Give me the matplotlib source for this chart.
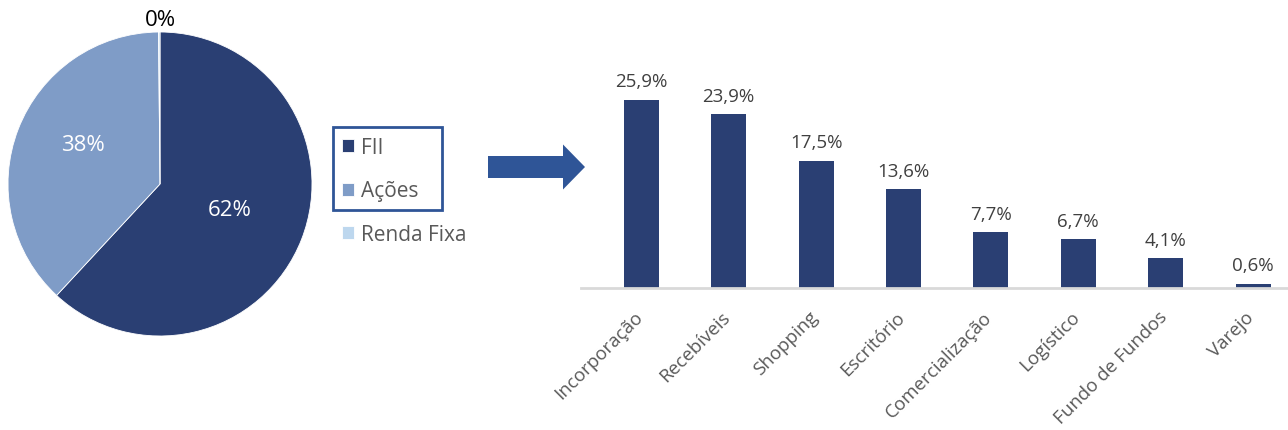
import matplotlib.pyplot as plt
from matplotlib.patches import Rectangle, FancyArrow
from matplotlib.transforms import ScaledTranslation

plt.rcParams['font.family'] = ['Open Sans', 'DejaVu Sans']

# pie data
pie_labels = ['FII', 'Ações', 'Renda Fixa']
pie_values = [62, 38, 0.15]
pie_text = ['62%', '38%', '0%']
pie_colors = ['#2A3F73', '#7F9CC7', '#BDD7EE']

# bar data
sectors = ['Incorporação', 'Recebíveis', 'Shopping', 'Escritório',
           'Comercialização', 'Logístico', 'Fundo de Fundos', 'Varejo']
shares = [25.9, 23.9, 17.5, 13.6, 7.7, 6.7, 4.1, 0.6]

W, H = 1288, 431
fig = plt.figure(figsize=(W / 100, H / 100), dpi=100)

# --- pie ---
ax1 = fig.add_axes([8 / W, 94 / H, 304 / W, 304 / H])
wedges, _ = ax1.pie(pie_values, colors=pie_colors, startangle=90, counterclock=False,
                    wedgeprops=dict(edgecolor='white', linewidth=0.6))
ax1.set_xlim(-1, 1)
ax1.set_ylim(-1, 1)
ax1.set_aspect('equal')
ax1.text(0.46, -0.17, pie_text[0], color='white', fontsize=16, ha='center', va='center')
ax1.text(-0.51, 0.26, pie_text[1], color='white', fontsize=16, ha='center', va='center')
ax1.text(0.0, 1.08, pie_text[2], color='black', fontsize=16, ha='center', va='center')

# legend
fig.legend(wedges, pie_labels, loc='center left', bbox_to_anchor=(342 / W, (H - 192) / H),
           frameon=False, labelcolor='#595959', prop=dict(size=15),
           handlelength=0.6, handleheight=0.6, handletextpad=0.3,
           labelspacing=1.08, borderpad=0, borderaxespad=0)
fig.patches.append(Rectangle((333 / W, (H - 211) / H), 109 / W, 83 / H,
                             transform=fig.transFigure, fill=False,
                             edgecolor='#2F5597', linewidth=2))

# arrow
fig.patches.append(FancyArrow(488 / W, (H - 168) / H, 75 / W, 0,
                              width=22 / H, head_width=45 / H, head_length=22 / W,
                              length_includes_head=False, transform=fig.transFigure,
                              color='#2F5597', linewidth=0))

# --- bars ---
ax2 = fig.add_axes([581 / W, 142 / H, 707 / W, 218 / H])
x = range(len(sectors))
bars = ax2.bar(x, shares, width=0.4, color='#2A3F73')
for xi, v in zip(x, shares):
    ax2.text(xi, v + 1.3, f'{v:.1f}%'.replace('.', ','), ha='center', va='bottom',
             fontsize=13.5, color='#404040')
ax2.set_xlim(-0.69, 7.4)
ax2.set_ylim(0, 30)
ax2.set_yticks([])
ax2.set_xticks(list(x))
ax2.set_xticklabels(sectors, rotation=45, ha='right', rotation_mode='anchor',
                    fontsize=13.5, color='#595959')
ax2.tick_params(axis='x', length=0, pad=14)
shift = ScaledTranslation(-8 / 100, 0, fig.dpi_scale_trans)
for lab in ax2.get_xticklabels():
    lab.set_transform(lab.get_transform() + shift)
for s in ['top', 'right', 'left']:
    ax2.spines[s].set_visible(False)
ax2.spines['bottom'].set_color('#D9D9D9')
ax2.spines['bottom'].set_linewidth(2)

fig.savefig('out.png', dpi=100)
